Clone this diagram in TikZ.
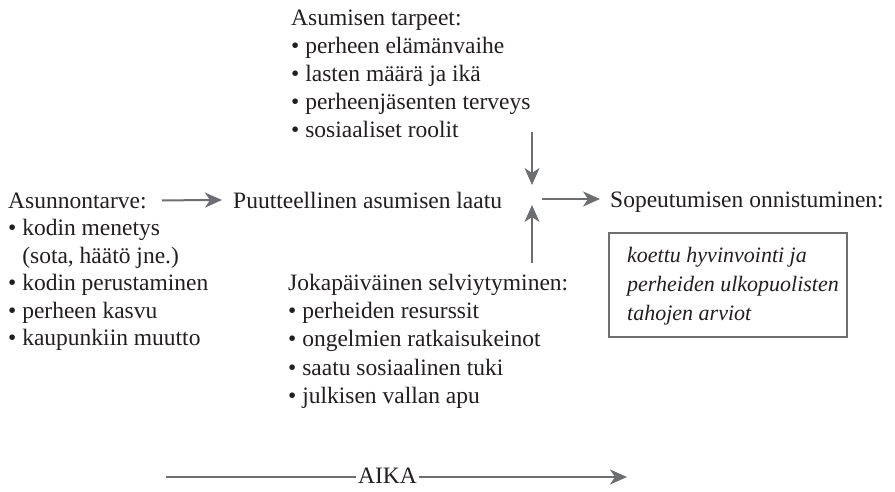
\documentclass[tikz,border=0pt]{standalone}
\usepackage{fontspec}
\setmainfont{Liberation Serif}
\usetikzlibrary{arrows.meta}
\definecolor{arrgray}{RGB}{109,110,113}
\definecolor{txt}{RGB}{35,31,32}
\tikzset{
  txtline/.style={anchor=base west, inner sep=0pt, text=txt, font=\fontsize{23.5}{27.5}\selectfont},
  itline/.style={anchor=base west, inner sep=0pt, text=txt, font=\fontsize{22}{27}\selectfont\itshape},
  arr/.style={draw=arrgray, line width=2pt, -{Stealth[length=17pt,width=15pt,inset=5pt]}},
  plainline/.style={draw=arrgray, line width=2pt},
  resultbox/.style={draw=arrgray, line width=1.2pt}
}
\begin{document}
\begin{tikzpicture}[x=1pt,y=-1pt]
\useasboundingbox[fill=white] (0,0) rectangle (895,491);
% top block
\node[txtline] (t0) at (291,25) {Asumisen tarpeet:};
\node[txtline] (t1) at (291,53) {• perheen elämänvaihe};
\node[txtline] (t2) at (291,81) {• lasten määrä ja ikä};
\node[txtline] (t3) at (291,109) {• perheenjäsenten terveys};
\node[txtline] (t4) at (291,137) {• sosiaaliset roolit};
% left block
\node[txtline] (l0) at (8,208) {Asunnontarve:};
\node[txtline] (l1) at (8,235.5) {• kodin menetys};
\node[txtline] (l2) at (8,263) {\phantom{•\ }(sota, häätö jne.)};
\node[txtline] (l3) at (8,290.5) {• kodin perustaminen};
\node[txtline] (l4) at (8,318) {• perheen kasvu};
\node[txtline] (l5) at (8,345.5) {• kaupunkiin muutto};
% middle
\node[txtline] (puut) at (233,208) {Puutteellinen asumisen laatu};
\node[txtline] (sope) at (610,207) {Sopeutumisen onnistuminen:};
% bottom block
\node[txtline] (b0) at (288,290) {Jokapäiväinen selviytyminen:};
\node[txtline] (b1) at (288,318) {• perheiden resurssit};
\node[txtline] (b2) at (288,346.5) {• ongelmien ratkaisukeinot};
\node[txtline] (b3) at (288,375) {• saatu sosiaalinen tuki};
\node[txtline] (b4) at (288,403.5) {• julkisen vallan apu};
% result box
\draw[resultbox] (609,233) rectangle (847,337);
\node[itline] (r1) at (627,262) {koettu hyvinvointi ja};
\node[itline] (r2) at (627,291) {perheiden ulkopuolisten};
\node[itline] (r3) at (627,320) {tahojen arviot};
% arrows
\coordinate (hub) at (532,195);
\draw[arr] ([xshift=15pt]l0.east) -- ([xshift=-11pt]puut.west);
\draw[arr] ([yshift=63pt]hub) -- ([yshift=10pt]hub);
\draw[arr] ([yshift=-68pt]hub) -- ([yshift=-10pt]hub);
\draw[arr] ([xshift=10pt,yshift=-4pt]hub) -- ([xshift=68pt,yshift=-4pt]hub);
% time axis
\node[txtline] (aika) at (358,483) {AIKA};
\coordinate (tstart) at (166,477);
\coordinate (tend) at (627,477);
\draw[plainline] (tstart) -- ([xshift=-2pt]tstart -| aika.west);
\draw[arr] ([xshift=2pt]tstart -| aika.east) -- (tend);
\end{tikzpicture}
\end{document}
